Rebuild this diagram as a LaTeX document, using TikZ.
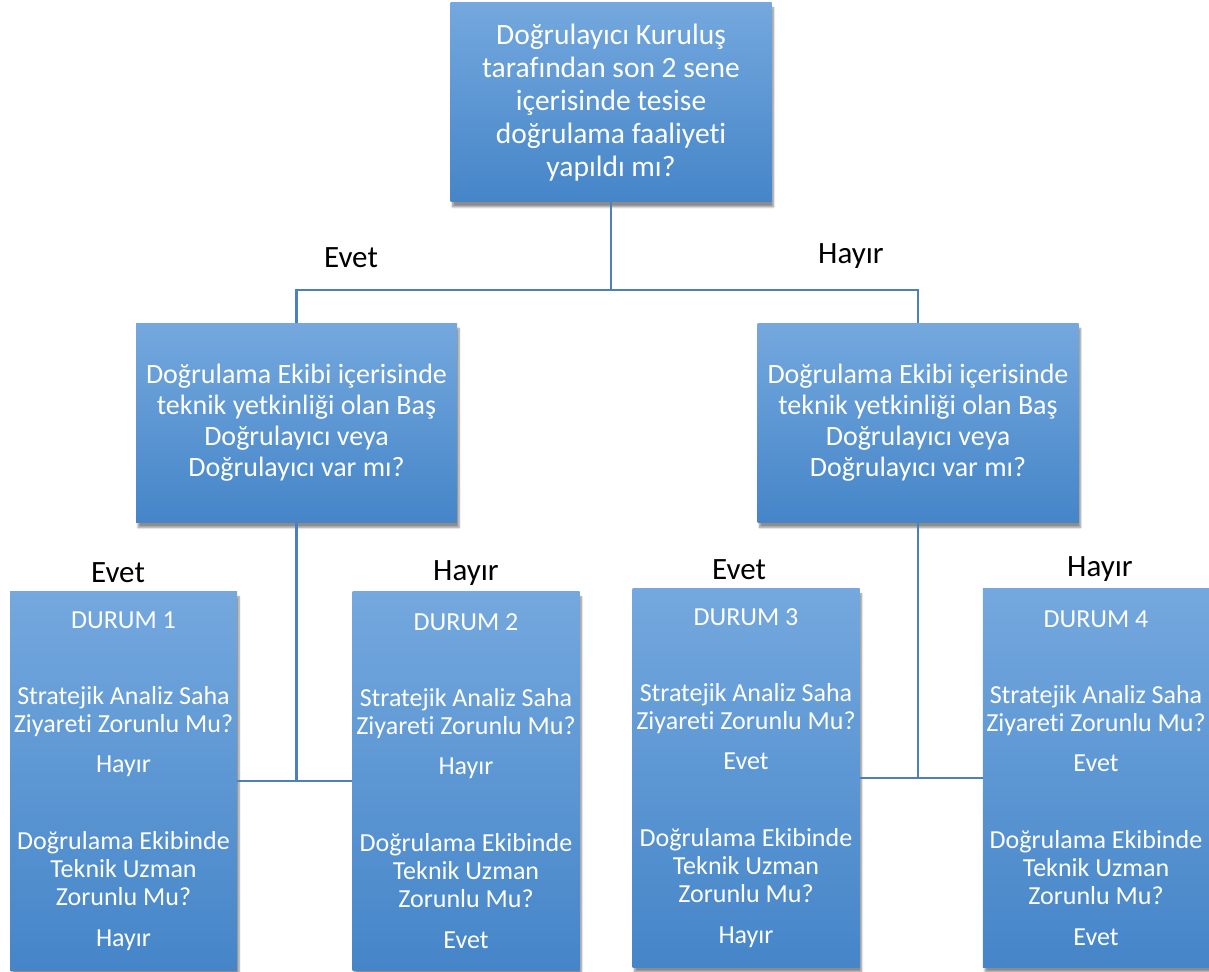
\documentclass[tikz,border=0pt]{standalone}
\usepackage{fontspec}
\setmainfont[Ligatures={NoCommon}]{Carlito}
\usepackage{tikz}
\usetikzlibrary{shadows.blur}
\definecolor{boxtop}{RGB}{116,168,222}
\definecolor{boxbot}{RGB}{69,133,200}
\definecolor{linkblue}{RGB}{76,128,188}
\tikzstyle{question} = [rectangle, minimum width=321pt, minimum height=199pt, text centered, align=center, text=white, top color=boxtop, bottom color=boxbot, blur shadow={shadow xshift=2pt, shadow yshift=-5pt, shadow blur steps=6, shadow opacity=45}]
\tikzstyle{outcome} = [question, minimum width=227pt, minimum height=378pt, font=\fontsize{26}{28}\selectfont]
\tikzstyle{link} = [line width=2.6pt, draw=linkblue]
\tikzstyle{answer} = [font=\fontsize{31}{34}\selectfont, text=black]
\newcommand{\caseinfo}[3]{DURUM #1\\[48pt]Stratejik Analiz Saha\\Ziyareti Zorunlu Mu?\\[12pt]#2\\[49pt]Doğrulama Ekibinde\\Teknik Uzman\\Zorunlu Mu?\\[13pt]#3}
\begin{document}
\begin{tikzpicture}[x=1pt, y=1pt]
        \useasboundingbox (0,0) rectangle (1209,971);
        \node (top) [question, font=\fontsize{29.5}{33}\selectfont] at (611,868.5) {Doğrulayıcı Kuruluş\\tarafından son 2 sene\\içerisinde tesise\\doğrulama faaliyeti\\yapıldı mı?};
        \node (midl) [question, font=\fontsize{28}{31}\selectfont] at (296.5,548) {Doğrulama Ekibi içerisinde\\teknik yetkinliği olan Baş\\Doğrulayıcı veya\\Doğrulayıcı var mı?};
        \node (midr) [question, font=\fontsize{28}{31}\selectfont] at (918,548) {Doğrulama Ekibi içerisinde\\teknik yetkinliği olan Baş\\Doğrulayıcı veya\\Doğrulayıcı var mı?};
        \node (d1) [outcome] at (123.5,190) {\caseinfo{1}{Hayır}{Hayır}};
        \node (d2) [outcome] at (466,190) {\caseinfo{2}{Hayır}{Evet}};
        \node (d3) [outcome] at (746,193) {\caseinfo{3}{Evet}{Hayır}};
        \node (d4) [outcome, minimum width=226pt] at (1096,193) {\caseinfo{4}{Evet}{Evet}};

        \coordinate (split) at (611,681);
        \draw [link] (top.south) -- (split);
        \draw [link] (midl.north) |- (split) -| (midr.north);
        \draw [link] (d1.east) -- (d2.west);
        \draw [link] (midl.south) -- (midl.south |- d1.east);
        \draw [link] (d3.east) -- (d4.west);
        \draw [link] (midr.south) -- (midr.south |- d3.east);

        \node (yes1) [answer] at (351,713) {Evet};
        \node (no1) [answer] at (851,715) {Hayır};
        \node (yes2) [answer] at (118,398) {Evet};
        \node (no2) [answer] at (466,398) {Hayır};
        \node (yes3) [answer] at (739,401) {Evet};
        \node (no3) [answer] at (1100,402) {Hayır};
        \end{tikzpicture}
\end{document}
